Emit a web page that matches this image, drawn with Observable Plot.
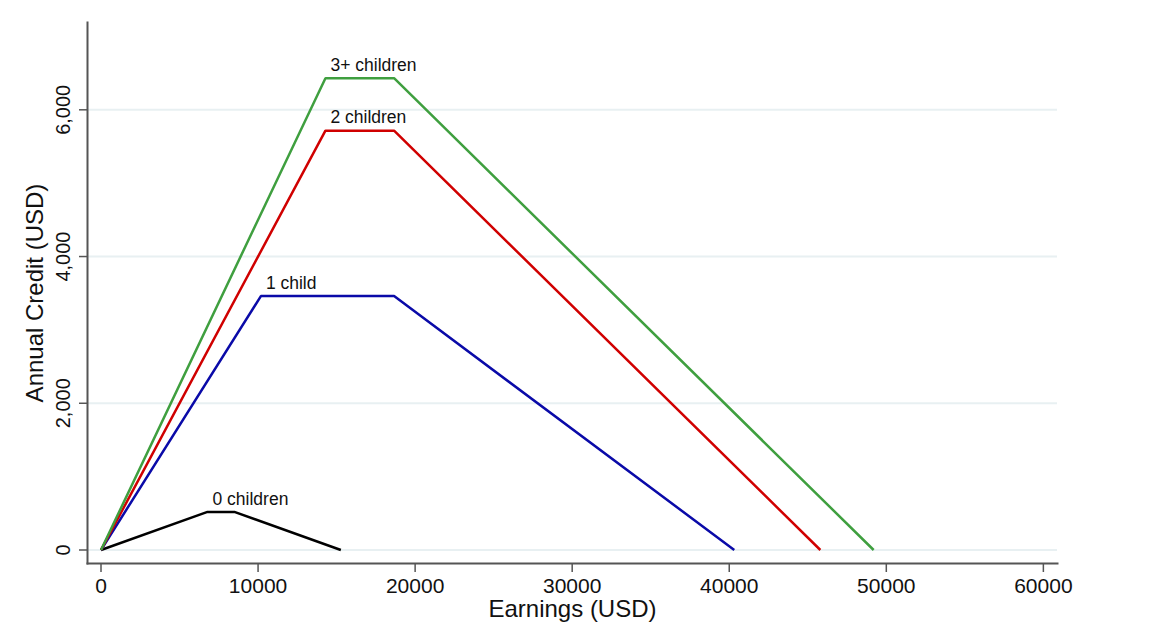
<!DOCTYPE html>
<html>
<head>
<meta charset="utf-8">
<script src="https://cdn.jsdelivr.net/npm/d3@7"></script>
<script src="https://cdn.jsdelivr.net/npm/@observablehq/plot@0.6"></script>
<style>
  html, body { margin: 0; padding: 0; background: #fff; }
  #chart svg { display: block; }
</style>
</head>
<body>
<div id="chart"></div>
<script>
// EITC schedule by number of children: kink points (earnings, credit)
const series = ["0 children", "1 child", "2 children", "3+ children"];
const colors = ["#000000", "#0a0aa8", "#d00000", "#3f9f3f"];
const phaseInEnd   = [6780, 10180, 14290, 14290];
const maxCredit    = [519, 3461, 5716, 6431];
const phaseOutStart= [8490, 18660, 18660, 18660];
const phaseOutEnd  = [15270, 40320, 45802, 49194];

const xTicks = [0, 10000, 20000, 30000, 40000, 50000, 60000];
const yTicks = [0, 2000, 4000, 6000];

const points = [];
series.forEach((s, i) => {
  points.push({s, x: 0, y: 0});
  points.push({s, x: phaseInEnd[i], y: maxCredit[i]});
  points.push({s, x: phaseOutStart[i], y: maxCredit[i]});
  points.push({s, x: phaseOutEnd[i], y: 0});
});
const labels = series.map((s, i) => ({s, x: phaseInEnd[i], y: maxCredit[i]}));

const font = "Liberation Sans, Arial, Helvetica, sans-serif";

const chart = Plot.plot({
  width: 1154,
  height: 633,
  marginLeft: 87,
  marginRight: 97,
  marginTop: 22,
  marginBottom: 70,
  style: {fontFamily: font, background: "#fff"},
  x: {domain: [-860, 60900]},
  y: {domain: [-184, 7190]},
  color: {domain: series, range: colors},
  marks: [
    Plot.ruleY(yTicks, {x1: -860, x2: 60900, stroke: "#e8f0f2", strokeWidth: 2}),
    Plot.frame({anchor: "left", stroke: "#555", strokeWidth: 2}),
    Plot.frame({anchor: "bottom", stroke: "#555", strokeWidth: 2}),
    Plot.axisX({ticks: xTicks, tickFormat: () => "", tickSize: 9, stroke: "#555", strokeWidth: 1.5, label: null}),
    Plot.axisY({ticks: yTicks, tickFormat: () => "", tickSize: 8, stroke: "#555", strokeWidth: 1.5, label: null}),
    Plot.text(xTicks, {x: d => d, frameAnchor: "bottom", text: d => String(d), dy: 23,
      lineAnchor: "middle", fontSize: 21, fill: "#111"}),
    Plot.text(yTicks, {y: d => d, frameAnchor: "left", text: d => d3.format(",")(d), dx: -24,
      rotate: -90, lineAnchor: "middle", textAnchor: "middle", fontSize: 20, fill: "#111"}),
    Plot.text(["Earnings (USD)"], {frameAnchor: "bottom", dy: 46, lineAnchor: "middle",
      fontSize: 24, fill: "#111"}),
    Plot.text(["Annual Credit (USD)"], {frameAnchor: "left", dx: -52, rotate: -90,
      lineAnchor: "middle", fontSize: 24, fill: "#111", textAnchor: "middle"}),
    Plot.line(points, {x: "x", y: "y", z: "s", stroke: "s", strokeWidth: 2.5,
      strokeLinejoin: "miter", strokeLinecap: "butt"}),
    Plot.text(labels, {x: "x", y: "y", text: "s", textAnchor: "start", dx: 5, dy: -13,
      fontSize: 17.5, fill: "#111"})
  ]
});
document.getElementById("chart").appendChild(chart);
</script>
</body>
</html>
